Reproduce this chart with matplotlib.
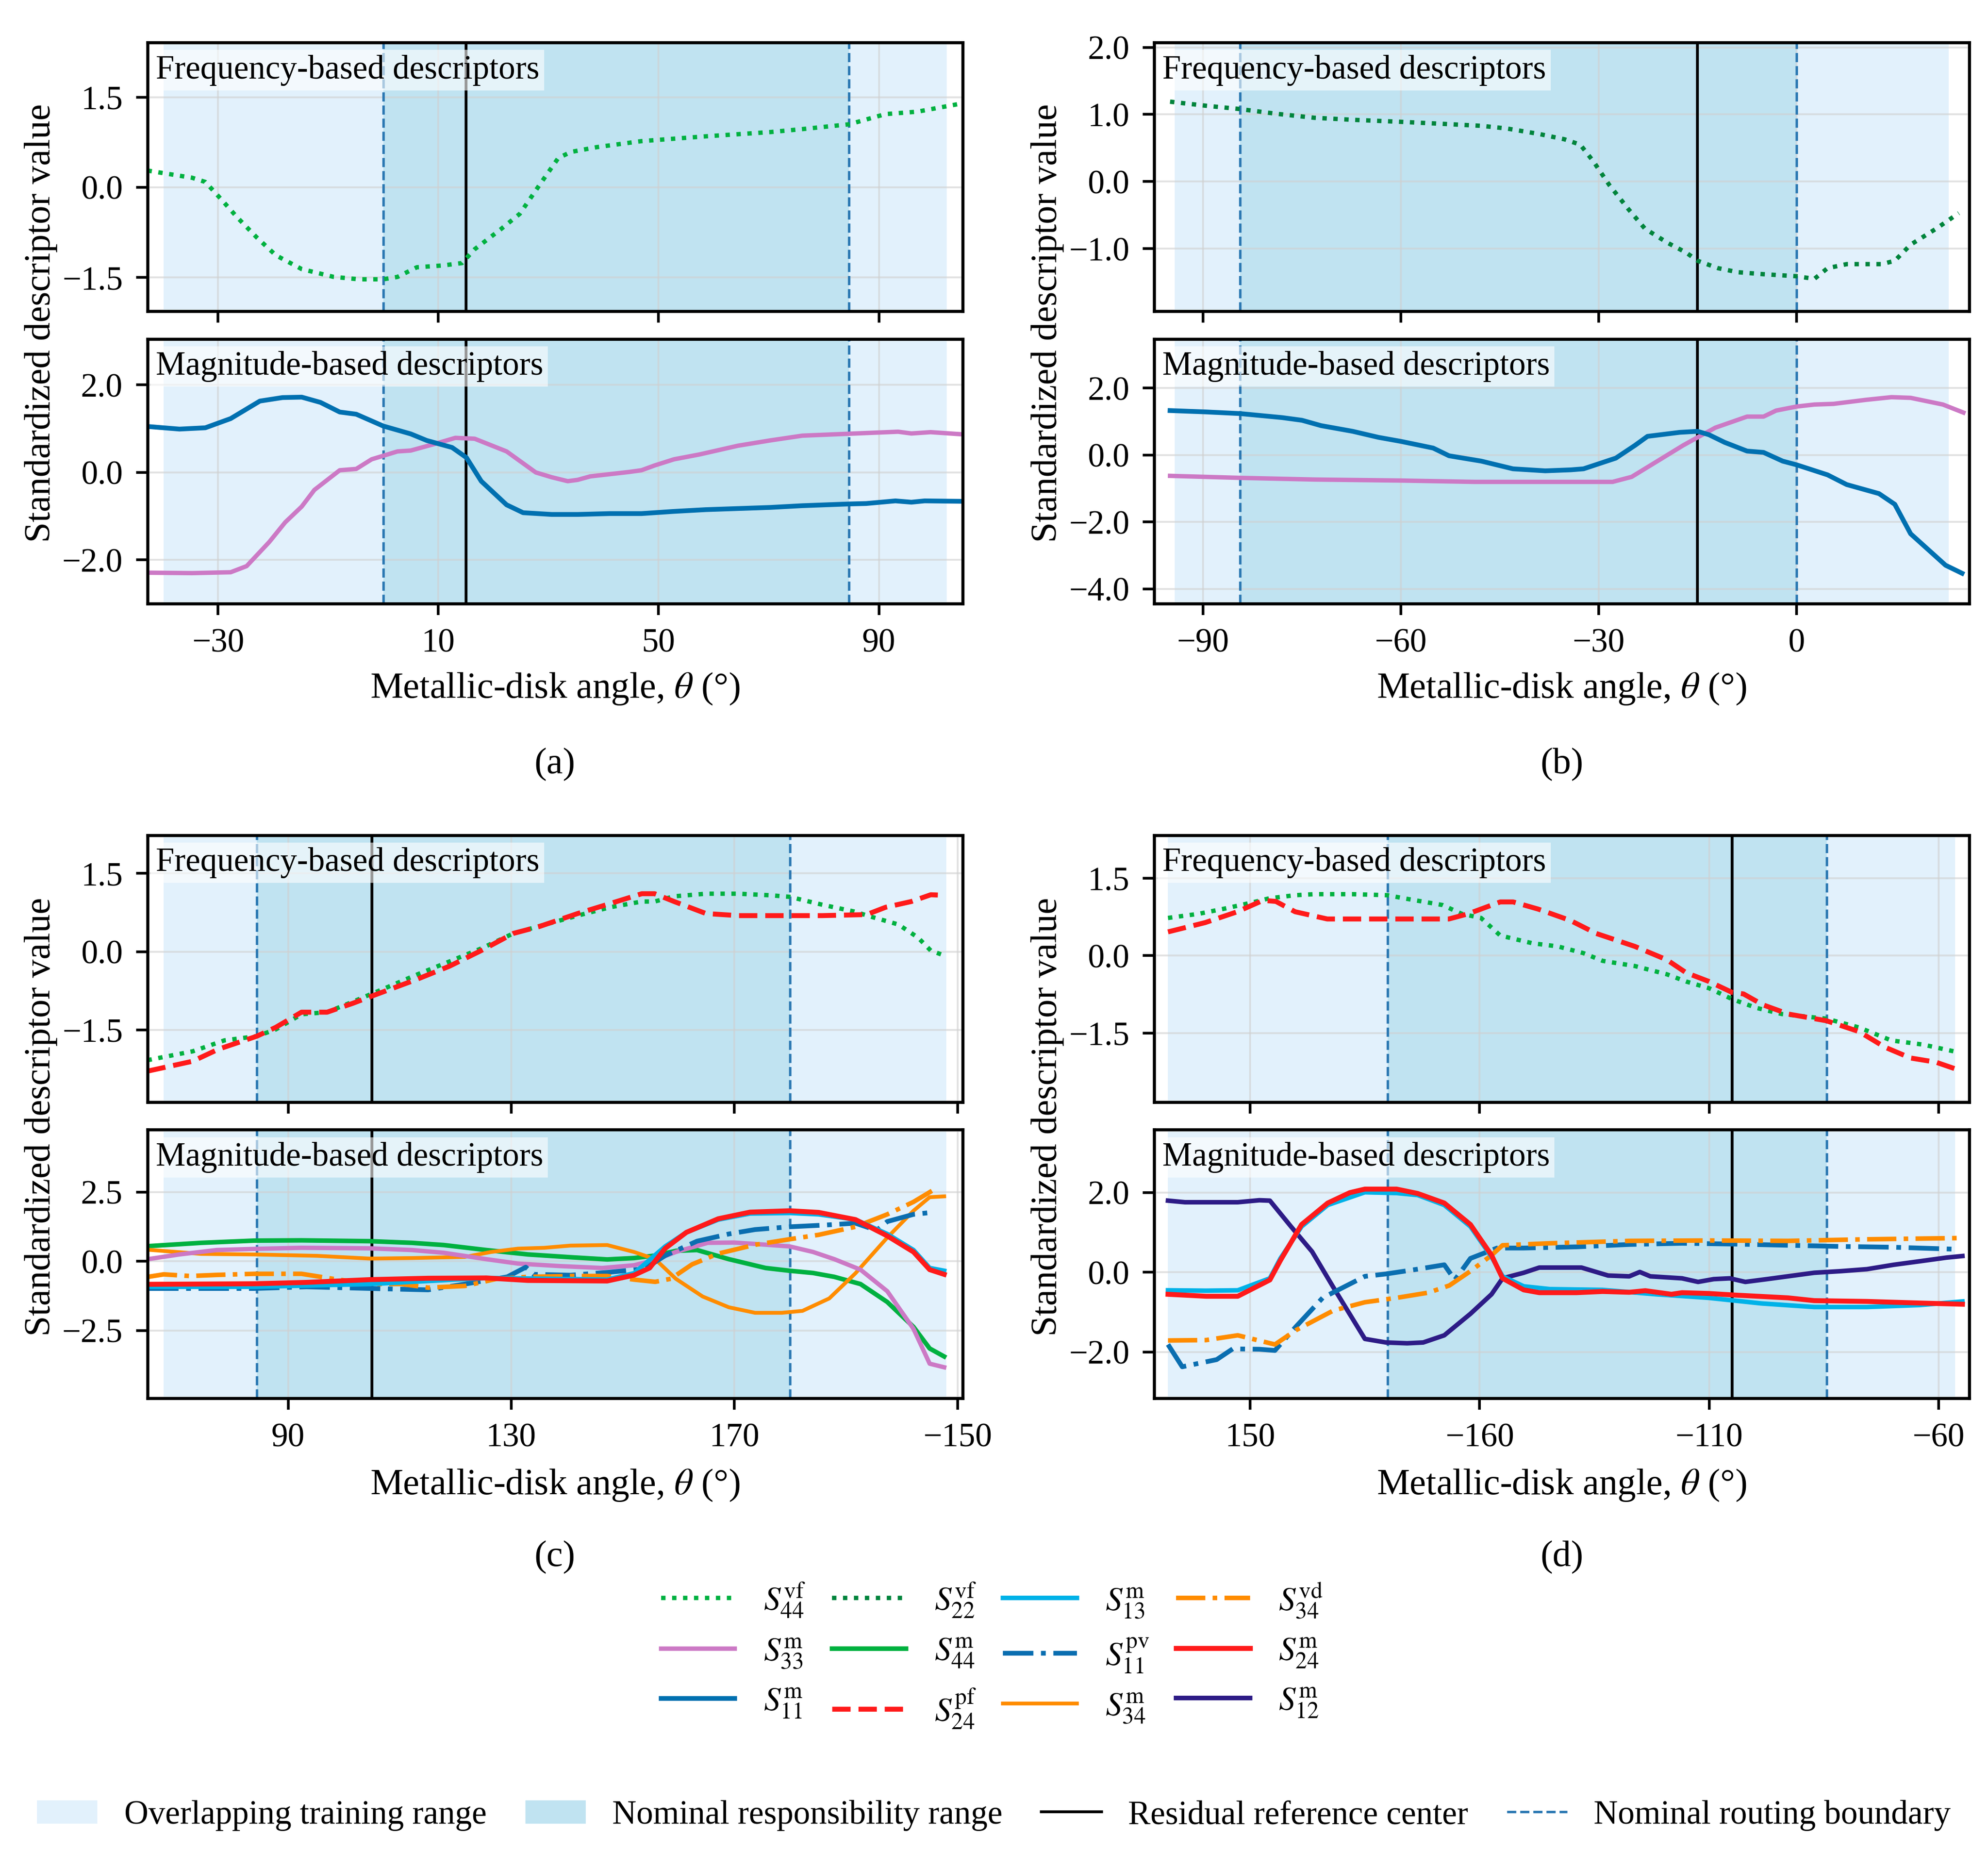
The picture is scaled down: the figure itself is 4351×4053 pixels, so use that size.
import numpy as np
import matplotlib.pyplot as plt
from matplotlib.lines import Line2D
from matplotlib.patches import Patch
from matplotlib.ticker import FuncFormatter, FixedLocator

# ------------------------------------------------------------
# Standardized descriptors vs metallic-disk angle, 4 panels
# ------------------------------------------------------------

plt.rcParams["font.family"] = ["Liberation Serif", "DejaVu Serif"]
plt.rcParams["mathtext.fontset"] = "stix"
plt.rcParams["axes.linewidth"] = 0.8

# ---------------- panel (a) ----------------
a_s44vf_x = [-42.8, -34.7, -32.3, -29.4, -26.5, -23.0, -19.5, -14.8, -9.0, -4.4, 0.0, 2.6, 6.1, 10.8, 14.3,
             16.6, 21.3, 24.8, 28.3, 31.8, 34.1, 38.8, 46.9, 58.6, 70.2, 76.1, 84.6, 91.2, 97.0, 105.2]
a_s44vf_y = [0.28, 0.16, 0.09, -0.20, -0.50, -0.83, -1.13, -1.36, -1.49, -1.53, -1.53, -1.49, -1.33, -1.30, -1.26,
             -1.03, -0.70, -0.44, 0.03, 0.49, 0.59, 0.67, 0.77, 0.85, 0.92, 0.97, 1.05, 1.22, 1.26, 1.40]

a_s11m_x = [-42.8, -37.0, -32.3, -27.7, -22.4, -18.3, -14.8, -11.4, -7.9, -4.9, 0.0, 5.0, 7.9, 12.5, 15.1, 17.8,
            22.4, 25.4, 30.6, 35.3, 41.1, 46.9, 52.8, 58.6, 70.2, 76.1, 84.6, 87.7, 93.0, 95.9, 98.3, 105.2]
a_s11m_y = [1.05, 0.99, 1.02, 1.23, 1.63, 1.71, 1.72, 1.60, 1.38, 1.33, 1.06, 0.88, 0.73, 0.57, 0.34, -0.20,
            -0.74, -0.92, -0.96, -0.96, -0.94, -0.94, -0.89, -0.85, -0.80, -0.76, -0.72, -0.71, -0.65, -0.68, -0.65, -0.66]

a_s33m_x = [-42.8, -34.7, -27.7, -24.8, -20.7, -17.8, -14.8, -12.5, -7.9, -4.9, -2.1, 2.6, 5.0, 9.6, 13.1, 16.6,
            22.4, 27.7, 30.6, 33.5, 35.3, 37.6, 44.6, 46.9, 49.3, 52.8, 57.4, 64.4, 70.2, 76.1, 81.9, 87.7, 93.5,
            95.9, 99.4, 105.2]
a_s33m_y = [-2.29, -2.30, -2.28, -2.14, -1.59, -1.14, -0.78, -0.40, 0.05, 0.08, 0.30, 0.48, 0.50, 0.66, 0.79, 0.77,
            0.48, 0.00, -0.11, -0.20, -0.17, -0.09, 0.01, 0.05, 0.16, 0.30, 0.41, 0.61, 0.73, 0.84, 0.87, 0.90, 0.93,
            0.89, 0.92, 0.87]

# ---------------- panel (b) ----------------
b_s22vf_x = [-95.0, -89.6, -84.4, -78.9, -73.1, -67.3, -60.0, -53.7, -47.8, -43.9, -39.1, -35.2, -32.8, -30.8,
             -28.4, -25.5, -23.0, -19.6, -16.7, -15.0, -11.9, -8.9, -5.0, 0.0, 2.7, 4.7, 7.6, 12.9, 14.9, 17.3,
             21.2, 24.6]
b_s22vf_y = [1.19, 1.13, 1.08, 1.01, 0.95, 0.92, 0.89, 0.86, 0.83, 0.79, 0.71, 0.63, 0.55, 0.30,
             -0.05, -0.41, -0.70, -0.91, -1.06, -1.18, -1.29, -1.35, -1.38, -1.41, -1.45, -1.29, -1.23, -1.23, -1.18,
             -0.94, -0.70, -0.47]

b_s11m_x = [-95.0, -89.6, -84.4, -78.0, -75.0, -72.1, -67.3, -63.4, -60.0, -55.1, -52.7, -47.8, -43.0, -38.1,
            -34.2, -32.3, -27.4, -24.5, -22.6, -17.7, -15.0, -13.3, -10.9, -7.5, -5.0, -2.1, 0.0, 4.7, 7.6, 12.5,
            14.9, 17.3, 22.6, 25.1]
b_s11m_y = [1.33, 1.29, 1.24, 1.12, 1.04, 0.88, 0.71, 0.53, 0.41, 0.21, -0.02, -0.18, -0.41, -0.47,
            -0.44, -0.41, -0.09, 0.29, 0.56, 0.68, 0.71, 0.61, 0.38, 0.12, 0.08, -0.18, -0.29, -0.59, -0.88, -1.15,
            -1.47, -2.35, -3.29, -3.53]

b_s33m_x = [-95.0, -84.4, -73.1, -60.0, -48.8, -34.2, -27.9, -25.0, -20.6, -17.2, -15.0, -12.3, -7.5, -5.0,
            -3.1, 0.0, 2.7, 5.6, 10.5, 14.4, 17.3, 22.2, 25.3]
b_s33m_y = [-0.62, -0.68, -0.73, -0.76, -0.80, -0.80, -0.80, -0.65, -0.12, 0.29, 0.53, 0.82, 1.15, 1.15,
            1.33, 1.45, 1.51, 1.53, 1.65, 1.73, 1.71, 1.51, 1.27]

# ---------------- panel (c) ----------------
c_s44vf_x = [64.8, 72.9, 78.6, 84.4, 87.8, 92.4, 97.0, 101.6, 107.4, 113.1, 118.9, 124.6, 130.4, 136.1, 141.9,
             147.7, 153.4, 155.7, 159.2, 164.9, 170.7, 176.4, 179.9, 185.7, 191.4, 194.8, 199.4, 202.9, 205.2, 207.5]
c_s44vf_y = [-2.08, -1.91, -1.70, -1.62, -1.49, -1.20, -1.16, -0.96, -0.70, -0.44, -0.19, 0.06, 0.35, 0.52, 0.69,
             0.85, 0.96, 0.96, 1.06, 1.11, 1.11, 1.08, 1.05, 0.90, 0.77, 0.66, 0.52, 0.27, 0.02, -0.07]

c_s24pf_x = [64.8, 72.9, 77.5, 84.4, 87.8, 92.4, 97.0, 101.6, 104.8, 113.1, 118.9, 124.6, 130.4, 135.0, 141.9,
             147.7, 153.4, 155.7, 159.2, 164.9, 170.7, 179.9, 185.7, 193.7, 197.1, 201.7, 205.2, 207.5]
c_s24pf_y = [-2.29, -2.10, -1.87, -1.62, -1.45, -1.16, -1.16, -0.99, -0.86, -0.53, -0.28, 0.02, 0.35, 0.48, 0.73,
             0.92, 1.11, 1.11, 0.96, 0.73, 0.69, 0.69, 0.69, 0.71, 0.85, 0.96, 1.09, 1.08]

c_s44m_x = [64.9, 74.4, 83.9, 92.4, 104.7, 112.2, 117.9, 125.5, 133.0, 140.6, 147.2, 152.0, 155.8, 159.5, 163.3,
            169.0, 175.6, 179.9, 184.1, 187.9, 192.6, 197.4, 202.1, 205.0, 207.6]
c_s44m_y = [0.55, 0.67, 0.75, 0.76, 0.73, 0.67, 0.59, 0.41, 0.25, 0.15, 0.07, 0.12, 0.21, 0.38, 0.41,
            0.08, -0.24, -0.34, -0.42, -0.56, -0.82, -1.47, -2.37, -3.15, -3.44]

c_s33m_x = [64.9, 70.5, 77.2, 83.9, 92.4, 104.7, 112.2, 117.9, 125.5, 131.2, 138.7, 146.3, 152.0, 155.8, 159.5,
            165.2, 169.9, 173.7, 179.9, 184.1, 187.9, 192.6, 197.4, 202.1, 205.0, 207.6]
c_s33m_y = [0.08, 0.25, 0.41, 0.45, 0.49, 0.47, 0.41, 0.31, 0.08, -0.08, -0.17, -0.24, -0.14, 0.05, 0.34,
            0.67, 0.68, 0.63, 0.54, 0.34, 0.08, -0.30, -1.08, -2.44, -3.70, -3.83]

c_s34m_x = [64.9, 74.4, 83.9, 95.2, 104.7, 112.2, 121.7, 126.4, 131.2, 135.9, 140.6, 147.2, 152.0, 155.8, 159.5,
            164.3, 169.0, 173.7, 178.5, 182.2, 187.0, 191.7, 197.4, 202.1, 205.0, 207.6]
c_s34m_y = [0.42, 0.27, 0.25, 0.20, 0.10, 0.12, 0.16, 0.34, 0.46, 0.49, 0.57, 0.59, 0.34, 0.08, -0.63,
            -1.27, -1.66, -1.86, -1.86, -1.79, -1.34, -0.43, 0.86, 1.83, 2.32, 2.35]

c_s34vd_x = [64.9, 67.7, 72.4, 77.2, 83.9, 92.4, 98.0, 104.7, 110.3, 115.1, 121.7, 127.4, 133.0, 140.6, 147.2,
             152.0, 155.8, 158.6, 162.4, 167.1, 173.7, 179.9, 185.1, 191.7, 197.4, 202.1, 205.9]
c_s34vd_y = [-0.56, -0.47, -0.53, -0.49, -0.45, -0.45, -0.63, -0.82, -0.82, -0.95, -0.89, -0.63, -0.56, -0.53, -0.53,
             -0.66, -0.74, -0.63, -0.11, 0.28, 0.60, 0.80, 0.96, 1.25, 1.70, 2.15, 2.61]

c_s11pv_x = [64.9, 74.4, 83.9, 93.3, 104.7, 115.1, 121.7, 129.3, 132.6, 134.0, 140.6, 147.2, 153.9, 157.6, 163.3,
             169.0, 173.7, 179.9, 186.0, 191.7, 195.5, 197.4, 202.1, 205.9]
c_s11pv_y = [-0.98, -0.98, -0.98, -0.92, -0.98, -1.03, -0.82, -0.56, -0.21, -0.47, -0.50, -0.40, -0.27, 0.21, 0.73,
             0.99, 1.15, 1.25, 1.31, 1.38, 1.12, 1.44, 1.70, 1.78]

c_s13m_x = [64.9, 83.9, 104.7, 125.5, 147.2, 152.0, 157.6, 161.4, 167.1, 172.8, 179.9, 185.1, 191.7, 197.4, 202.1,
            205.0, 207.6]
c_s13m_y = [-0.92, -0.92, -0.82, -0.60, -0.66, -0.43, 0.54, 1.05, 1.51, 1.73, 1.75, 1.70, 1.51, 0.99, 0.41,
            -0.24, -0.34]

c_s24m_x = [64.9, 74.4, 83.9, 93.3, 104.7, 115.1, 125.5, 133.0, 147.2, 152.0, 154.8, 157.6, 161.4, 167.1, 172.8,
            179.9, 185.1, 191.7, 197.4, 202.1, 205.0, 207.6]
c_s24m_y = [-0.83, -0.82, -0.81, -0.76, -0.66, -0.61, -0.60, -0.69, -0.71, -0.50, -0.24, 0.47, 1.05, 1.54, 1.78,
            1.83, 1.77, 1.51, 0.92, 0.34, -0.30, -0.47]

# ---------------- panel (d) ----------------
d_s44vf_x = [132.1, 138.8, 144.4, 150.0, 154.2, 159.8, 164.0, 172.3, 179.9, 183.5, 191.9, 196.1, 200.3, 204.5,
             211.5, 217.0, 222.6, 226.8, 233.8, 240.8, 245.0, 250.0, 255.0, 260.3, 265.9, 275.6, 282.7, 289.7,
             296.6, 304.3]
d_s44vf_y = [0.73, 0.81, 0.91, 1.02, 1.11, 1.17, 1.19, 1.19, 1.17, 1.11, 0.98, 0.81, 0.73, 0.39,
             0.24, 0.18, 0.05, -0.10, -0.20, -0.36, -0.50, -0.63, -0.84, -1.01, -1.13, -1.22, -1.39, -1.64,
             -1.72, -1.87]

d_s24pf_x = [132.1, 140.2, 147.2, 152.8, 155.6, 159.8, 166.8, 179.9, 193.3, 197.5, 204.5, 207.3, 212.8, 219.8,
             225.4, 233.8, 240.8, 245.0, 250.0, 255.0, 257.5, 261.7, 267.3, 275.6, 282.7, 288.3, 293.9, 299.4, 304.3]
d_s24pf_y = [0.46, 0.64, 0.85, 1.07, 1.05, 0.85, 0.71, 0.71, 0.71, 0.81, 1.04, 1.04, 0.90, 0.68,
             0.43, 0.18, -0.08, -0.33, -0.50, -0.71, -0.74, -0.95, -1.13, -1.26, -1.47, -1.77, -1.98, -2.06, -2.21]

d_s12m_x = [132.1, 135.8, 147.3, 152.0, 154.3, 158.9, 163.5, 168.1, 175.0, 179.6, 184.2, 187.7, 192.3, 198.0,
            202.6, 205.0, 209.6, 213.0, 222.2, 228.0, 232.6, 234.9, 237.2, 244.1, 247.6, 251.0, 254.5, 257.9,
            262.6, 272.9, 278.7, 284.4, 290.2, 296.0, 301.7, 305.2]
d_s12m_y = [1.80, 1.76, 1.76, 1.81, 1.80, 1.15, 0.52, -0.37, -1.67, -1.76, -1.78, -1.76, -1.58, -1.04,
            -0.55, -0.15, -0.01, 0.12, 0.12, -0.08, -0.10, 0.01, -0.10, -0.15, -0.24, -0.17, -0.15, -0.24,
            -0.17, -0.01, 0.03, 0.08, 0.19, 0.28, 0.37, 0.41]

d_s13m_x = [132.1, 140.4, 147.3, 154.3, 156.6, 161.2, 166.9, 175.0, 181.9, 186.5, 192.3, 198.0, 202.6, 205.0,
            209.6, 215.3, 226.8, 238.4, 249.9, 261.4, 272.9, 284.4, 296.0, 305.2]
d_s13m_y = [-0.45, -0.46, -0.45, -0.15, 0.35, 1.15, 1.69, 2.01, 1.99, 1.94, 1.69, 1.15, 0.39, -0.10,
            -0.35, -0.42, -0.44, -0.55, -0.64, -0.78, -0.87, -0.87, -0.82, -0.73]

d_s24m_x = [132.1, 140.4, 147.3, 154.3, 156.6, 161.2, 166.9, 171.7, 175.0, 181.9, 186.5, 192.3, 198.0, 202.6,
            205.0, 209.6, 213.0, 221.1, 226.8, 232.6, 236.1, 241.8, 244.1, 249.9, 255.6, 267.2, 272.9, 284.4,
            296.0, 305.2]
d_s24m_y = [-0.55, -0.60, -0.60, -0.19, 0.30, 1.20, 1.74, 2.00, 2.09, 2.09, 1.98, 1.74, 1.20, 0.43,
            -0.15, -0.44, -0.51, -0.51, -0.48, -0.50, -0.46, -0.55, -0.51, -0.53, -0.57, -0.64, -0.71, -0.73,
            -0.77, -0.80]

d_s11pv_x = [132.1, 135.2, 142.7, 146.2, 152.0, 155.4, 160.0, 165.8, 175.0, 179.6, 186.5, 192.3, 194.6, 198.0,
             203.8, 209.6, 221.1, 232.6, 244.1, 255.6, 267.2, 278.7, 290.2, 304.0]
d_s11pv_y = [-1.81, -2.37, -2.19, -1.92, -1.93, -1.96, -1.36, -0.64, -0.10, -0.04, 0.08, 0.19, -0.19, 0.35,
             0.61, 0.61, 0.64, 0.70, 0.73, 0.71, 0.68, 0.65, 0.63, 0.58]

d_s34vd_x = [132.1, 140.4, 147.3, 155.4, 160.0, 168.1, 175.0, 181.9, 188.8, 193.4, 198.0, 202.6, 205.0, 215.3,
             232.6, 249.9, 267.2, 284.4, 304.0]
d_s34vd_y = [-1.71, -1.70, -1.58, -1.81, -1.45, -0.96, -0.75, -0.64, -0.51, -0.33, 0.03, 0.43, 0.68, 0.73,
             0.79, 0.80, 0.79, 0.83, 0.86]

# ranges: overlapping training range, nominal responsibility range, residual center
a_overlap, a_nominal, a_center = (-39.9, 102.3), (0.0, 84.6), 15.0
b_overlap, b_nominal, b_center = (-94.3, 23.1), (-84.4, 0.0), -15.0
c_overlap, c_nominal, c_center = (67.7, 208.0), (84.4, 180.0), 105.0
d_overlap, d_nominal, d_center = (132.1, 303.6), (180.0, 275.6), 255.0

a_xticks = [-30, 10, 50, 90]
b_xticks = [-90, -60, -30, 0]
c_xticks = [90, 130, 170, 210]
d_xticks = [150, 200, 250, 300]

DOT = (0, (1, 1.5))

# line styles per descriptor
STYLE = {
    "s44vf": dict(color="#00b140", ls=DOT, lw=1.15),
    "s22vf": dict(color="#00843c", ls=DOT, lw=1.15),
    "s13m": dict(color="#00b2e8", ls="-", lw=1.2),
    "s34vd": dict(color="#ff8c00", ls="-.", lw=1.2),
    "s33m": dict(color="#cc79c5", ls="-", lw=1.15),
    "s44m": dict(color="#00b140", ls="-", lw=1.2),
    "s11pv": dict(color="#0a6eb0", ls="-.", lw=1.25),
    "s24m": dict(color="#ff1a1a", ls="-", lw=1.3),
    "s11m": dict(color="#0070b0", ls="-", lw=1.25),
    "s24pf": dict(color="#ff1a1a", ls="--", lw=1.3),
    "s34m": dict(color="#ff8c00", ls="-", lw=1.0),
    "s12m": dict(color="#2d1b86", ls="-", lw=1.2),
}
LABEL = {
    "s44vf": r"$S_{44}^{\mathrm{vf}}$", "s22vf": r"$S_{22}^{\mathrm{vf}}$",
    "s13m": r"$S_{13}^{\mathrm{m}}$", "s34vd": r"$S_{34}^{\mathrm{vd}}$",
    "s33m": r"$S_{33}^{\mathrm{m}}$", "s44m": r"$S_{44}^{\mathrm{m}}$",
    "s11pv": r"$S_{11}^{\mathrm{pv}}$", "s24m": r"$S_{24}^{\mathrm{m}}$",
    "s11m": r"$S_{11}^{\mathrm{m}}$", "s24pf": r"$S_{24}^{\mathrm{pf}}$",
    "s34m": r"$S_{34}^{\mathrm{m}}$", "s12m": r"$S_{12}^{\mathrm{m}}$",
}

OVERLAP_C = "#e2f1fc"
NOMINAL_C = "#c0e3f1"
BOUND_C = "#2b78b2"

panels = [
    dict(tag="(a)", col=0, row=0, xlim=(-42.8, 105.2), xticks=a_xticks,
         overlap=a_overlap, nominal=a_nominal, center=a_center,
         top=[("s44vf", a_s44vf_x, a_s44vf_y)],
         bot=[("s33m", a_s33m_x, a_s33m_y), ("s11m", a_s11m_x, a_s11m_y)],
         ylim_top=(-2.06, 2.41), yt_top=[-1.5, 0.0, 1.5],
         ylim_bot=(-3.0, 3.05), yt_bot=[-2.0, 0.0, 2.0]),
    dict(tag="(b)", col=1, row=0, xlim=(-97.4, 26.2), xticks=b_xticks,
         overlap=b_overlap, nominal=b_nominal, center=b_center,
         top=[("s22vf", b_s22vf_x, b_s22vf_y)],
         bot=[("s33m", b_s33m_x, b_s33m_y), ("s11m", b_s11m_x, b_s11m_y)],
         ylim_top=(-1.93, 2.07), yt_top=[-1.0, 0.0, 1.0, 2.0],
         ylim_bot=(-4.44, 3.47), yt_bot=[-4.0, -2.0, 0.0, 2.0]),
    dict(tag="(c)", col=0, row=1, xlim=(64.8, 210.9), xticks=c_xticks,
         overlap=c_overlap, nominal=c_nominal, center=c_center,
         top=[("s44vf", c_s44vf_x, c_s44vf_y), ("s24pf", c_s24pf_x, c_s24pf_y)],
         bot=[("s44m", c_s44m_x, c_s44m_y), ("s34m", c_s34m_x, c_s34m_y), ("s33m", c_s33m_x, c_s33m_y),
              ("s11pv", c_s11pv_x, c_s11pv_y), ("s34vd", c_s34vd_x, c_s34vd_y),
              ("s13m", c_s13m_x, c_s13m_y), ("s24m", c_s24m_x, c_s24m_y)],
         ylim_top=(-2.88, 2.23), yt_top=[-1.5, 0.0, 1.5],
         ylim_bot=(-4.95, 4.76), yt_bot=[-2.5, 0.0, 2.5]),
    dict(tag="(d)", col=1, row=1, xlim=(129.1, 306.7), xticks=d_xticks,
         overlap=d_overlap, nominal=d_nominal, center=d_center,
         top=[("s44vf", d_s44vf_x, d_s44vf_y), ("s24pf", d_s24pf_x, d_s24pf_y)],
         bot=[("s12m", d_s12m_x, d_s12m_y), ("s11pv", d_s11pv_x, d_s11pv_y), ("s34vd", d_s34vd_x, d_s34vd_y),
              ("s13m", d_s13m_x, d_s13m_y), ("s24m", d_s24m_x, d_s24m_y)],
         ylim_top=(-2.83, 2.33), yt_top=[-1.5, 0.0, 1.5],
         ylim_bot=(-3.16, 3.58), yt_bot=[-2.0, 0.0, 2.0]),
]

COL_LEFT = [0.0742, 0.5806]
AX_W = 0.410
ROW_Y = [((0.832, 0.977), (0.674, 0.817)), ((0.405, 0.549), (0.245, 0.390))]
XLABEL_Y = [0.628, 0.198]
TAG_Y = [0.587, 0.159]
YLABEL_X = [0.0205, 0.5270]

LABEL_FS = 9.7
TICK_FS = 8.8
ANN_FS = 8.8


def wrap_deg(v, pos=None):
    w = ((v + 180.0) % 360.0) - 180.0
    return f"{int(round(w))}".replace("-", "\u2212")


def one_dec(v, pos=None):
    return f"{v:.1f}".replace("-", "\u2212")


def decorate(ax, p):
    ax.axvspan(*p["overlap"], color=OVERLAP_C, lw=0, zorder=0.2)
    ax.axvspan(*p["nominal"], color=NOMINAL_C, lw=0, zorder=0.3)
    for xb in p["nominal"]:
        ax.axvline(xb, color=BOUND_C, ls="--", lw=0.65, zorder=1.8)
    ax.axvline(p["center"], color="black", lw=0.75, zorder=1.9)
    ax.grid(True, color="#d0d0d0", lw=0.5, alpha=0.6)
    ax.set_xlim(*p["xlim"])
    ax.xaxis.set_major_locator(FixedLocator(p["xticks"]))
    ax.xaxis.set_major_formatter(FuncFormatter(wrap_deg))
    ax.yaxis.set_major_formatter(FuncFormatter(one_dec))
    ax.tick_params(labelsize=TICK_FS, width=0.7, length=3.0)


fig = plt.figure(figsize=(4351 / 600, 4053 / 600), dpi=600)

for p in panels:
    x0 = COL_LEFT[p["col"]]
    (t0, t1), (b0, b1) = ROW_Y[p["row"]]
    ax_t = fig.add_axes([x0, t0, AX_W, t1 - t0])
    ax_b = fig.add_axes([x0, b0, AX_W, b1 - b0], sharex=ax_t)

    for ax, key in ((ax_t, "top"), (ax_b, "bot")):
        decorate(ax, p)
        for name, xs, ys in p[key]:
            st = STYLE[name]
            ax.plot(xs, ys, color=st["color"], ls=st["ls"], lw=st["lw"], zorder=2)

    ax_t.set_ylim(*p["ylim_top"])
    ax_t.set_yticks(p["yt_top"])
    ax_b.set_ylim(*p["ylim_bot"])
    ax_b.set_yticks(p["yt_bot"])
    ax_t.tick_params(labelbottom=False)

    ax_t.text(0.010, 0.955, "Frequency-based descriptors", transform=ax_t.transAxes, ha="left", va="top",
              fontsize=ANN_FS, zorder=5,
              bbox=dict(facecolor="white", alpha=0.6, edgecolor="none", pad=1.2))
    ax_b.text(0.010, 0.955, "Magnitude-based descriptors", transform=ax_b.transAxes, ha="left", va="top",
              fontsize=ANN_FS, zorder=5,
              bbox=dict(facecolor="white", alpha=0.6, edgecolor="none", pad=1.2))

    xc = x0 + AX_W / 2
    fig.text(xc, XLABEL_Y[p["row"]], r"Metallic-disk angle, $\theta$ (°)", ha="center", va="center",
             fontsize=LABEL_FS)
    fig.text(xc, TAG_Y[p["row"]], p["tag"], ha="center", va="center", fontsize=LABEL_FS)
    fig.text(YLABEL_X[p["col"]], (t1 + b0) / 2, "Standardized descriptor value", rotation=90,
             ha="center", va="center", fontsize=LABEL_FS)

# descriptor legend (matplotlib fills column by column)
leg_order = ["s44vf", "s33m", "s11m", "s22vf", "s44m", "s24pf", "s13m", "s11pv", "s34m", "s34vd", "s24m", "s12m"]
desc_handles = [Line2D([], [], color=STYLE[k]["color"], ls=STYLE[k]["ls"], lw=STYLE[k]["lw"])
                for k in leg_order]
fig.legend(desc_handles, [LABEL[k] for k in leg_order], loc="center", bbox_to_anchor=(0.499, 0.106),
           ncol=4, frameon=False, fontsize=ANN_FS, handlelength=2.2, handletextpad=0.85,
           columnspacing=0.8, labelspacing=0.5)

# range legend
range_handles = [
    Patch(facecolor=OVERLAP_C, edgecolor="none"),
    Patch(facecolor=NOMINAL_C, edgecolor="none"),
    Line2D([], [], color="black", lw=0.75),
    Line2D([], [], color=BOUND_C, ls="--", lw=0.65),
]
range_labels = ["Overlapping training range", "Nominal responsibility range",
                "Residual reference center", "Nominal routing boundary"]
fig.legend(range_handles, range_labels, loc="center", bbox_to_anchor=(0.5, 0.0197), ncol=4, frameon=False,
           fontsize=ANN_FS, handlelength=1.8, handletextpad=0.8, columnspacing=1.15)

fig.savefig("out.png", dpi=600)
plt.close(fig)
